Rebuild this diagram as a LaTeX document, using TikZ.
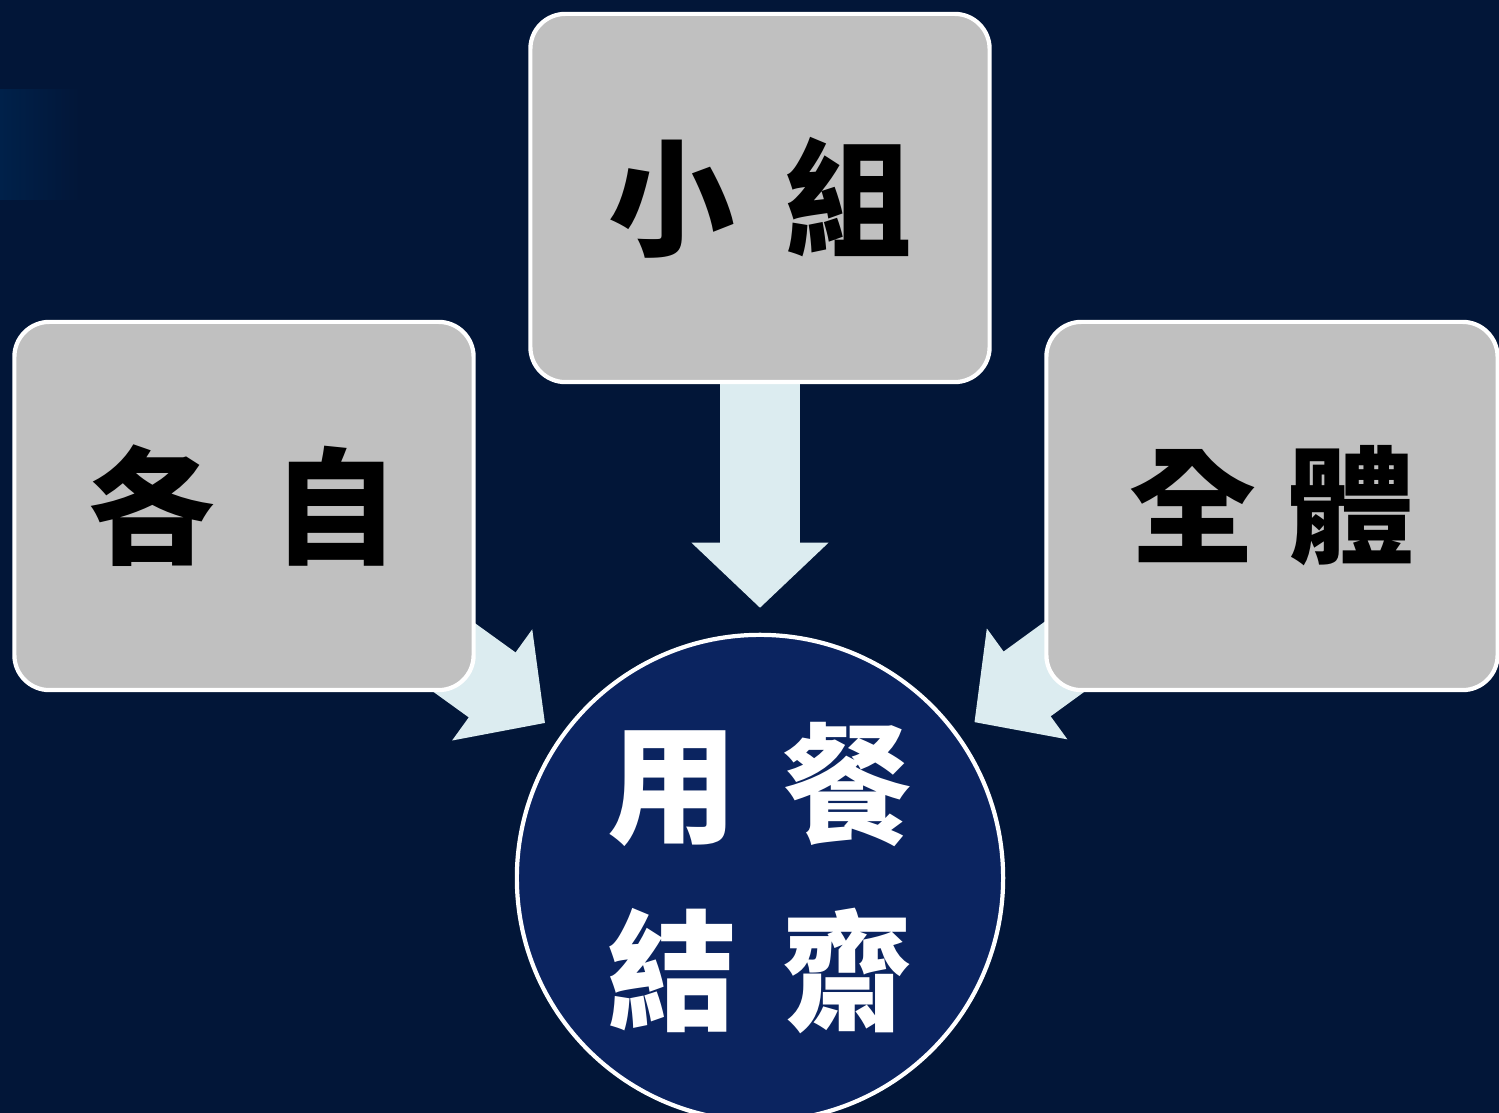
\documentclass[tikz,border=0pt]{standalone}
\usepackage{fontspec}
\usepackage{tikz}
\usetikzlibrary{arrows.meta,positioning}
\newfontfamily\cjk{Noto Sans CJK TC}
\definecolor{bgnavy}{RGB}{2,22,56}
\definecolor{bgglow}{RGB}{0,33,74}
\definecolor{boxgray}{RGB}{192,192,192}
\definecolor{flowblue}{RGB}{220,236,240}
\definecolor{mealblue}{RGB}{11,36,96}
\pgfdeclarelayer{back}
\pgfdeclarelayer{flow}
\pgfsetlayers{back,flow,main}

\begin{document}
\begin{tikzpicture}[x=0.01cm,y=-0.01cm]
% Styles
\tikzset{
    box/.style={draw=white,line width=1.2pt,fill=boxgray,rounded corners=0.35cm,
        minimum width=4.59cm,minimum height=3.68cm,
        font=\cjk\bfseries\fontsize{36}{42}\selectfont},
    meal/.style={circle,draw=white,line width=1.2pt,fill=mealblue,minimum size=4.86cm,
        text=white,align=center,font=\cjk\bfseries\fontsize{37}{53}\selectfont},
    flow/.style={flowblue,line width=0.8cm,
        -{Triangle[length=0.65cm,width=1.36cm,line width=1.5pt]}}
}
\useasboundingbox (0,0) rectangle (1499,1113);
% Background
\begin{pgfonlayer}{back}
\fill[bgnavy] (0,0) rectangle (1499,1113);
\fill[left color=bgglow,right color=bgnavy] (0,90) rectangle (80,200);
\end{pgfonlayer}
% Boxes and circle
\node[box] (group) at (760,198) {小\hspace{0.4em}組};
\node[box] (each) at (244,506) {各\hspace{0.45em}自\hspace{0.4em}};
\node[box,minimum width=4.51cm] (all) at (1272,506) {全\hspace{0.25em}體};
\node[meal] (dine) at (760,878) {用\hspace{0.35em}餐\\結\hspace{0.35em}齋};
% Arrows
\begin{pgfonlayer}{flow}
\draw[flow,shorten >=0.25cm] (group.south) -- (dine.north);
\draw[flow,shorten >=2.65cm] (each.center) -- (dine.center);
\draw[flow,shorten >=2.65cm] (all.center) -- (dine.center);
\end{pgfonlayer}
\end{tikzpicture}
\end{document}
